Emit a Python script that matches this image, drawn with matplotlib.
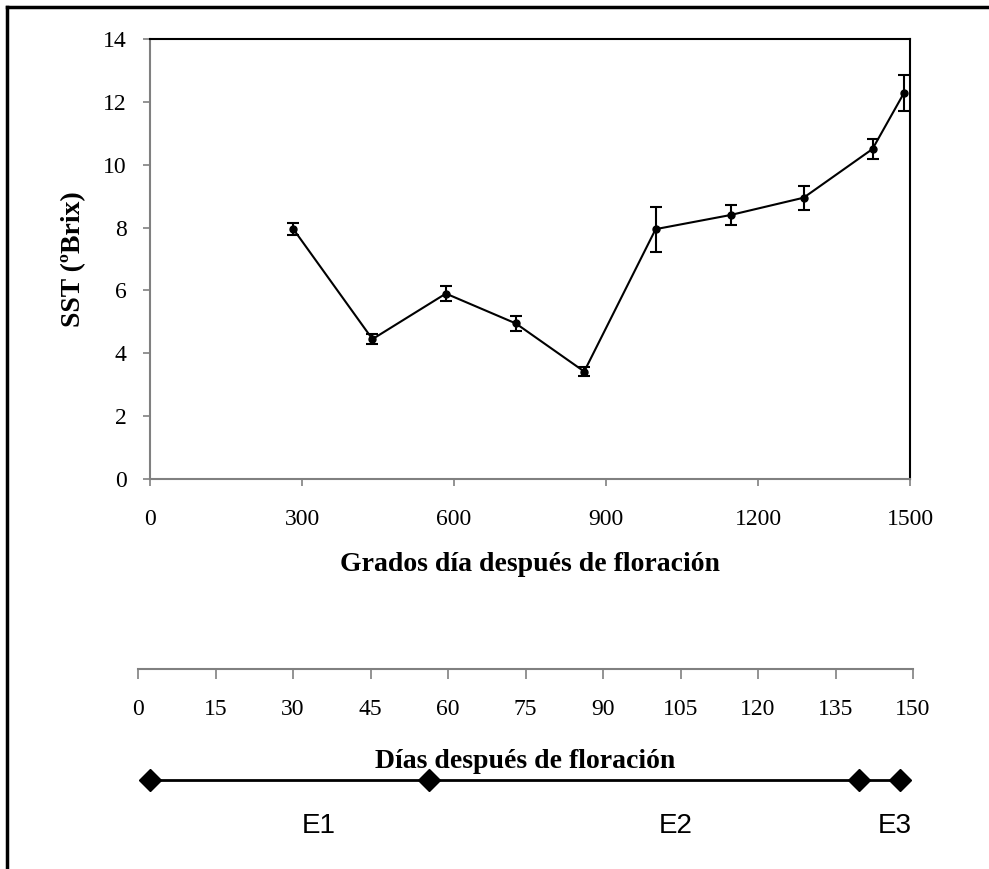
import matplotlib.pyplot as plt
from matplotlib.lines import Line2D

plt.rcParams["font.family"] = ["Liberation Serif", "DejaVu Serif"]
plt.rcParams["font.size"] = 17

# data
GDD = [283, 439, 584, 722, 857, 998, 1146, 1290, 1426, 1488]
SST = [7.95, 4.45, 5.9, 4.95, 3.42, 7.95, 8.4, 8.95, 10.5, 12.28]
SST_ERR = [0.2, 0.15, 0.25, 0.25, 0.15, 0.72, 0.32, 0.38, 0.32, 0.58]

DAY_TICKS = [0, 15, 30, 45, 60, 75, 90, 105, 120, 135, 150]
PHASE_GDD = [0, 550, 1400, 1480]
PHASE_LABELS = ["E1", "E2", "E3"]
PHASE_LABEL_X = [333, 1038, 1470]

GRAY = "#808080"
W, H = 989, 869

fig = plt.figure(figsize=(W / 100, H / 100), dpi=100)

# outer frame (only left and top edges visible)
fig.add_artist(Line2D([7 / W, 7 / W], [0, 1 - 7 / H], color="black", lw=2.5,
                      transform=fig.transFigure))
fig.add_artist(Line2D([7 / W, 1], [1 - 7 / H, 1 - 7 / H], color="black", lw=2.5,
                      transform=fig.transFigure))

# main chart
ax = fig.add_axes([150 / W, 1 - 479 / H, 760 / W, 440 / H])
ax.errorbar(GDD, SST, yerr=SST_ERR, color="black", lw=1.5, marker="o",
            markersize=5, capsize=4.5, capthick=1.5, elinewidth=1.5)
ax.set_xlim(0, 1500)
ax.set_ylim(0, 14)
ax.set_xticks(range(0, 1501, 300))
ax.set_yticks(range(0, 15, 2))
for s in ["top", "right"]:
    ax.spines[s].set_color("black")
    ax.spines[s].set_linewidth(1.5)
for s in ["left", "bottom"]:
    ax.spines[s].set_color(GRAY)
    ax.spines[s].set_linewidth(1.5)
ax.tick_params(direction="out", length=5, width=1.2, color=GRAY)
ax.tick_params(axis="y", pad=12)
ax.tick_params(axis="x", pad=16.5)
ax.set_xlabel("Grados día después de floración", fontweight="bold", fontsize=20,
              labelpad=16)
ax.set_ylabel("SST (ºBrix)", fontweight="bold", fontsize=20, labelpad=12)

# secondary axis in days
ax2 = fig.add_axes([138 / W, 1 - 669 / H, 775 / W, 0.001])
ax2.set_xlim(0, 150)
ax2.set_xticks(DAY_TICKS)
ax2.set_yticks([])
for s in ["top", "right", "left"]:
    ax2.spines[s].set_visible(False)
ax2.spines["bottom"].set_color(GRAY)
ax2.spines["bottom"].set_linewidth(1.5)
ax2.tick_params(axis="x", direction="out", length=7, width=1.2, color=GRAY, pad=14.5)
ax2.set_xlabel("Días después de floración", fontweight="bold", fontsize=20, labelpad=21)
ax2.patch.set_visible(False)

# phenological phases
ax3 = fig.add_axes([150 / W, 1 - 800 / H, 760 / W, 40 / H])
ax3.set_xlim(0, 1500)
ax3.set_ylim(0, 1)
ax3.plot(PHASE_GDD, [0.5] * len(PHASE_GDD), color="black", lw=2, marker="D",
         markersize=11, clip_on=False)
for lab, x in zip(PHASE_LABELS, PHASE_LABEL_X):
    ax3.text(x, -0.65, lab, ha="center", va="center", fontsize=20,
             family=["Liberation Sans", "DejaVu Sans"])
ax3.axis("off")

plt.savefig("out.png", dpi=100)
